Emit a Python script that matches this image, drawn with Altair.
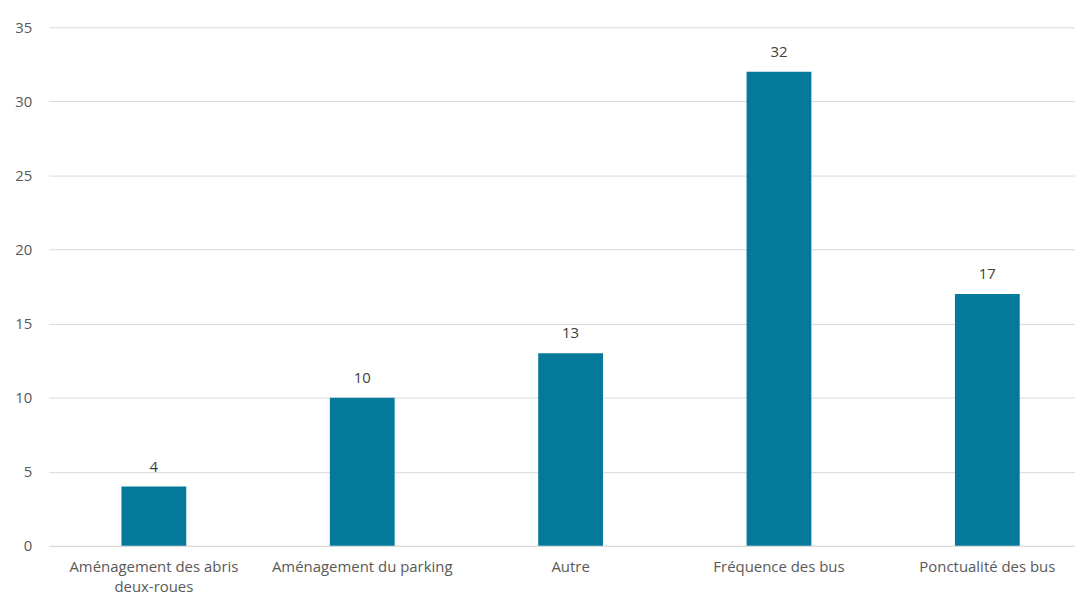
import altair as alt
import pandas as pd

categories = ["Aménagement des abris deux-roues", "Aménagement du parking", "Autre", "Fréquence des bus", "Ponctualité des bus"]
values = [4, 10, 13, 32, 17]

df = pd.DataFrame({"cat": categories, "val": values})

FONT = "Open Sans"
x = alt.X("cat:N", sort=categories, title=None,
          scale=alt.Scale(paddingInner=0.689, paddingOuter=0.307, align=0.568),
          axis=alt.Axis(labelAngle=0, ticks=False, domainColor="#d9d9d9", domainWidth=1,
                        labelColor="#595959", labelFont=FONT, labelFontSize=15, labelPadding=14,
                        labelLimit=300, labelLineHeight=20, labelBaseline="top",
                        labelExpr="datum.label == 'Aménagement des abris deux-roues' ? ['Aménagement des abris', 'deux-roues'] : datum.label"))
y = alt.Y("val:Q", title=None,
          scale=alt.Scale(domain=[0, 35], nice=False),
          axis=alt.Axis(values=[0, 5, 10, 15, 20, 25, 30, 35], ticks=False, domain=False,
                        gridColor="#d9d9d9", gridWidth=1, labelColor="#595959",
                        labelFont=FONT, labelFontSize=15, labelPadding=17))

bars = alt.Chart(df).mark_bar(color="#04799A").encode(x=x, y=y)
labels = alt.Chart(df).mark_text(baseline="alphabetic", dy=-15, font=FONT, fontSize=15, color="#404040").encode(
    x=alt.X("cat:N", sort=categories), y="val:Q", text="val:Q")

chart = (bars + labels).properties(
    width=1031, height=521,
    autosize=alt.AutoSizeParams(type="none"),
    padding={"left": 41, "top": 18, "right": 0, "bottom": 48},
).configure_view(stroke=None)

chart.save("out.html", embed_options={"renderer": "svg", "actions": False})
